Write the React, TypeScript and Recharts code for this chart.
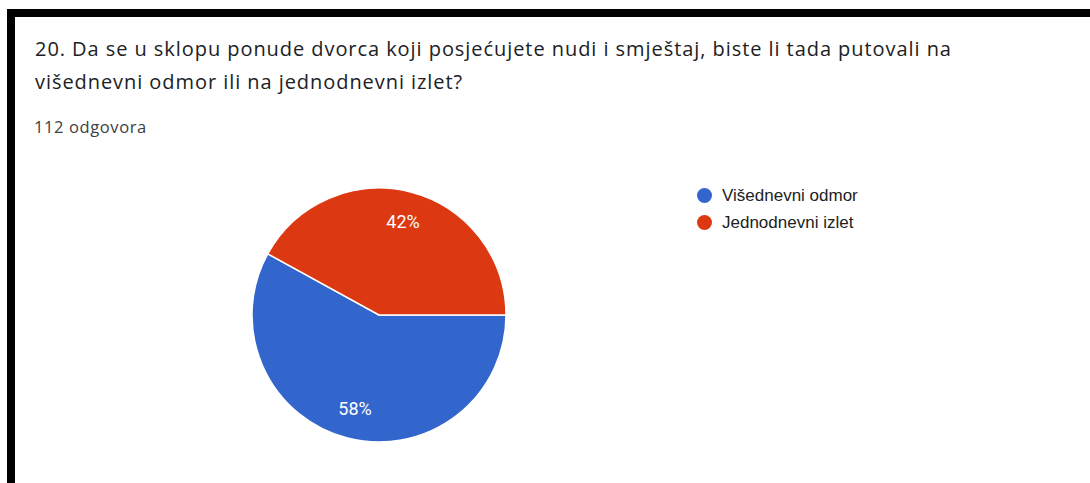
import { Legend, Pie, PieChart, Cell } from "recharts";

// Google Forms style answer summary: one question, two answers, a pie.
const TITLE_LINE_1 =
  "20. Da se u sklopu ponude dvorca koji posjećujete nudi i smještaj, biste li tada putovali na";
const TITLE_LINE_2 = "višednevni odmor ili na jednodnevni izlet?";
const RESPONSES = "112 odgovora";

const answers = ["Višednevni odmor", "Jednodnevni izlet"];
const shares = [58, 42];
const colors = ["#3366cc", "#dc3912"];

const data = answers.map((name, i) => ({ name, value: shares[i] }));

const RADIAN = Math.PI / 180;

function SliceLabel(props: any) {
  const { cx, cy, midAngle, outerRadius, percent } = props;
  const r = outerRadius * 0.76;
  const x = cx + r * Math.cos(-midAngle * RADIAN);
  const y = cy + r * Math.sin(-midAngle * RADIAN);
  return (
    <text
      x={x}
      y={y}
      fill="#ffffff"
      textAnchor="middle"
      dominantBaseline="central"
      fontFamily="Roboto, Arial, sans-serif"
      fontSize={18}
    >
      {`${Math.round(percent * 100)}%`}
    </text>
  );
}

// legend order follows the answers list, not whatever order recharts hands over
function LegendBox() {
  return (
    <div style={{ fontFamily: "'Liberation Sans', Arial, sans-serif", fontSize: 17, color: "#222" }}>
      {answers.map((name, i) => (
        <div key={name} style={{ display: "flex", alignItems: "center", height: 27 }}>
          <span
            style={{
              display: "inline-block",
              width: 15,
              height: 15,
              borderRadius: "50%",
              background: colors[i],
              marginRight: 10,
            }}
          />
          {name}
        </div>
      ))}
    </div>
  );
}

export default function App() {
  return (
    <div
      style={{
        position: "absolute",
        left: 0,
        top: 0,
        width: 1090,
        height: 483,
        background: "#ffffff",
        overflow: "hidden",
      }}
    >
      <div style={{ position: "absolute", left: 7, top: 9, width: 1083, height: 8, background: "#000" }} />
      <div style={{ position: "absolute", left: 7, top: 9, width: 8, height: 474, background: "#000" }} />
      <div
        style={{
          position: "absolute",
          left: 35,
          top: 32,
          fontFamily: "'Open Sans', Roboto, sans-serif",
          fontSize: 20,
          lineHeight: "33px",
          letterSpacing: 0.94,
          color: "#202124",
          whiteSpace: "nowrap",
        }}
      >
        <div>{TITLE_LINE_1}</div>
        <div>{TITLE_LINE_2}</div>
      </div>
      <div
        style={{
          position: "absolute",
          left: 34,
          top: 117,
          fontFamily: "'Open Sans', Roboto, sans-serif",
          fontSize: 16.5,
          lineHeight: "20px",
          letterSpacing: 0.6,
          color: "#3c4043",
          whiteSpace: "nowrap",
        }}
      >
        {RESPONSES}
      </div>
      <div style={{ position: "absolute", left: 0, top: 0 }}>
        <PieChart width={1090} height={483} margin={{ top: 0, right: 0, bottom: 0, left: 0 }}>
          <Pie
            data={data}
            dataKey="value"
            nameKey="name"
            cx={379}
            cy={315}
            outerRadius={127}
            startAngle={0}
            endAngle={-360}
            stroke="#ffffff"
            strokeWidth={1.5}
            label={SliceLabel}
            labelLine={false}
            isAnimationActive={false}
          >
            {data.map((d, i) => (
              <Cell key={d.name} fill={colors[i]} />
            ))}
          </Pie>
          <Legend
            layout="vertical"
            content={<LegendBox />}
            wrapperStyle={{ position: "absolute", left: 697, top: 182, width: 250 }}
          />
        </PieChart>
      </div>
    </div>
  );
}
